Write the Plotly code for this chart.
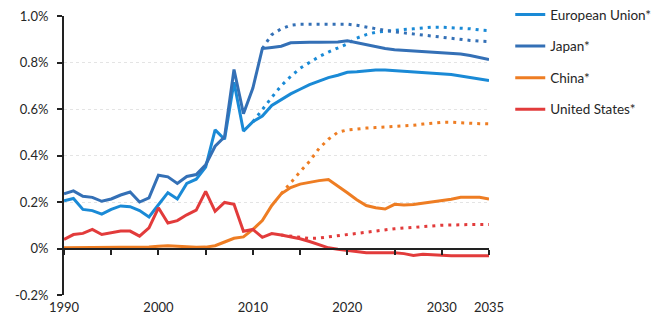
import plotly.graph_objects as go

years = list(range(1990, 2036))

eu = [0.205, 0.215, 0.168, 0.163, 0.148, 0.168, 0.183, 0.180, 0.163, 0.136,
      0.188, 0.240, 0.213, 0.280, 0.298, 0.350, 0.510, 0.470, 0.715, 0.505,
      0.545, 0.570, 0.615, 0.640, 0.665, 0.685, 0.705, 0.720, 0.735, 0.745,
      0.758, 0.760, 0.765, 0.768, 0.768, 0.765, 0.762, 0.760, 0.758, 0.755,
      0.752, 0.748, 0.742, 0.735, 0.728, 0.722]

japan = [0.235, 0.248, 0.225, 0.220, 0.203, 0.213, 0.230, 0.243, 0.200, 0.218,
         0.315, 0.308, 0.280, 0.310, 0.318, 0.360, 0.440, 0.480, 0.770, 0.580,
         0.690, 0.860, 0.865, 0.870, 0.885, 0.887, 0.887, 0.887, 0.887, 0.888,
         0.893, 0.885, 0.875, 0.868, 0.860, 0.855, 0.852, 0.852, 0.848, 0.845,
         0.843, 0.840, 0.837, 0.830, 0.820, 0.813]

china = [0.003, 0.003, 0.003, 0.003, 0.003, 0.003, 0.004, 0.005, 0.005, 0.006,
         0.010, 0.012, 0.010, 0.006, 0.005, 0.006, 0.012, 0.028, 0.044, 0.050,
         0.082, 0.120, 0.185, 0.235, 0.262, 0.277, 0.285, 0.292, 0.297, 0.270,
         0.240, 0.210, 0.185, 0.175, 0.170, 0.190, 0.187, 0.189, 0.194, 0.200,
         0.205, 0.212, 0.220, 0.221, 0.220, 0.213]

usa = [0.039, 0.060, 0.065, 0.082, 0.060, 0.068, 0.075, 0.075, 0.053, 0.089,
       0.175, 0.110, 0.120, 0.145, 0.165, 0.246, 0.160, 0.198, 0.190, 0.074,
       0.082, 0.048, 0.064, 0.058, 0.050, 0.042, 0.030, 0.015, 0.003, -0.003,
       -0.009, -0.014, -0.018, -0.018, -0.017, -0.018, -0.022, -0.030, -0.025, -0.028,
       -0.031, -0.031, -0.031, -0.031, -0.031, -0.031]

eu_dot_years = list(range(2010, 2036))
eu_dot = [0.545, 0.600, 0.650, 0.700, 0.740, 0.775, 0.800, 0.825, 0.845, 0.862,
          0.880, 0.905, 0.920, 0.930, 0.935, 0.940, 0.942, 0.945, 0.950, 0.952,
          0.952, 0.950, 0.948, 0.945, 0.940, 0.937]

japan_dot_years = list(range(2011, 2036))
japan_dot = [0.860, 0.920, 0.945, 0.960, 0.965, 0.965, 0.965, 0.965, 0.965, 0.965,
             0.960, 0.952, 0.945, 0.938, 0.932, 0.927, 0.922, 0.918, 0.913, 0.908,
             0.903, 0.898, 0.895, 0.892, 0.890]

china_dot_years = list(range(2013, 2036))
china_dot = [0.235, 0.285, 0.330, 0.375, 0.430, 0.470, 0.500, 0.510, 0.515, 0.518,
             0.520, 0.522, 0.524, 0.527, 0.530, 0.535, 0.540, 0.543, 0.543, 0.540,
             0.538, 0.537, 0.536]

usa_dot_years = list(range(2013, 2036))
usa_dot = [0.058, 0.052, 0.047, 0.043, 0.045, 0.050, 0.055, 0.060, 0.065, 0.072,
           0.077, 0.081, 0.085, 0.088, 0.090, 0.093, 0.097, 0.100, 0.102, 0.103,
           0.103, 0.103, 0.103]

names = ["European Union*", "Japan*", "China*", "United States*"]
colors = ["#1a8ad6", "#3470b6", "#ee7d23", "#e23b3b"]

y_ticks = [1.0, 0.8, 0.6, 0.4, 0.2, 0.0, -0.2]
y_ticktext = ["1.0%", "0.8%", "0.6%", "0.4%", "0.2%", "0%", "-0.2%"]
x_ticks = [1990, 2000, 2010, 2020, 2030, 2035]
x_minor = list(range(1990, 2036, 5))

FONT = "Lato, 'Open Sans', sans-serif"
TXT = "#262626"

fig = go.Figure()

solid = [eu, japan, china, usa]
dotted = [(eu_dot_years, eu_dot), (japan_dot_years, japan_dot),
          (china_dot_years, china_dot), (usa_dot_years, usa_dot)]

for (dx, dy), c in zip(dotted, colors):
    fig.add_trace(go.Scatter(x=dx, y=dy, mode="lines", showlegend=False,
                             line=dict(color=c, width=3, dash="3px,5px"),
                             hoverinfo="skip"))

for i, (vals, c, n) in enumerate(zip(solid, colors, names)):
    fig.add_trace(go.Scatter(x=years, y=vals, mode="lines", name=n,
                             legendgroup=n, legendrank=i + 1,
                             line=dict(color=c, width=3)))

# helper trace for the zero axis with tick marks
fig.add_trace(go.Scatter(x=[years[0], years[-1]], y=[0, 0], mode="lines",
                         xaxis="x2", yaxis="y", showlegend=False,
                         line=dict(width=0), opacity=0, hoverinfo="skip"))

fig.update_layout(
    width=662, height=318,
    margin=dict(l=64, r=173, t=16, b=23, autoexpand=False),
    paper_bgcolor="white", plot_bgcolor="white",
    font=dict(family=FONT, size=13, color=TXT),
    showlegend=True,
    legend=dict(x=1.05, y=1.06, xanchor="left", yanchor="top",
                traceorder="grouped", tracegroupgap=11,
                font=dict(family=FONT, size=13.5, color=TXT),
                itemwidth=30, bgcolor="rgba(0,0,0,0)"),
    xaxis=dict(range=[1990, 2035], tickmode="array", tickvals=x_ticks,
               ticktext=[str(t) for t in x_ticks], showgrid=False,
               zeroline=False, showline=False, ticks="",
               ticklabelstandoff=3,
               tickfont=dict(family=FONT, size=13, color=TXT)),
    xaxis2=dict(range=[1990, 2035], overlaying="x", anchor="free",
                position=1 / 6, showline=True, linecolor="#222222",
                linewidth=2, ticks="outside", ticklen=5, tickwidth=1.5,
                tickcolor="#222222", tickmode="array", tickvals=x_minor,
                showticklabels=False, showgrid=False, zeroline=False),
    yaxis=dict(range=[-0.2, 1.0], tickmode="array", tickvals=y_ticks,
               ticktext=y_ticktext, showline=True, linecolor="#222222",
               linewidth=2, ticks="outside", ticklen=5, tickwidth=1.5,
               tickcolor="#222222", showgrid=True, gridcolor="#e4e4e4",
               griddash="dot", gridwidth=1, zeroline=False,
               ticklabelstandoff=6,
               tickfont=dict(family=FONT, size=13, color=TXT)),
)

fig.write_html("out.html", config={"displayModeBar": False},
               post_script="document.body.style.margin='0px';document.body.style.overflow='hidden';")
